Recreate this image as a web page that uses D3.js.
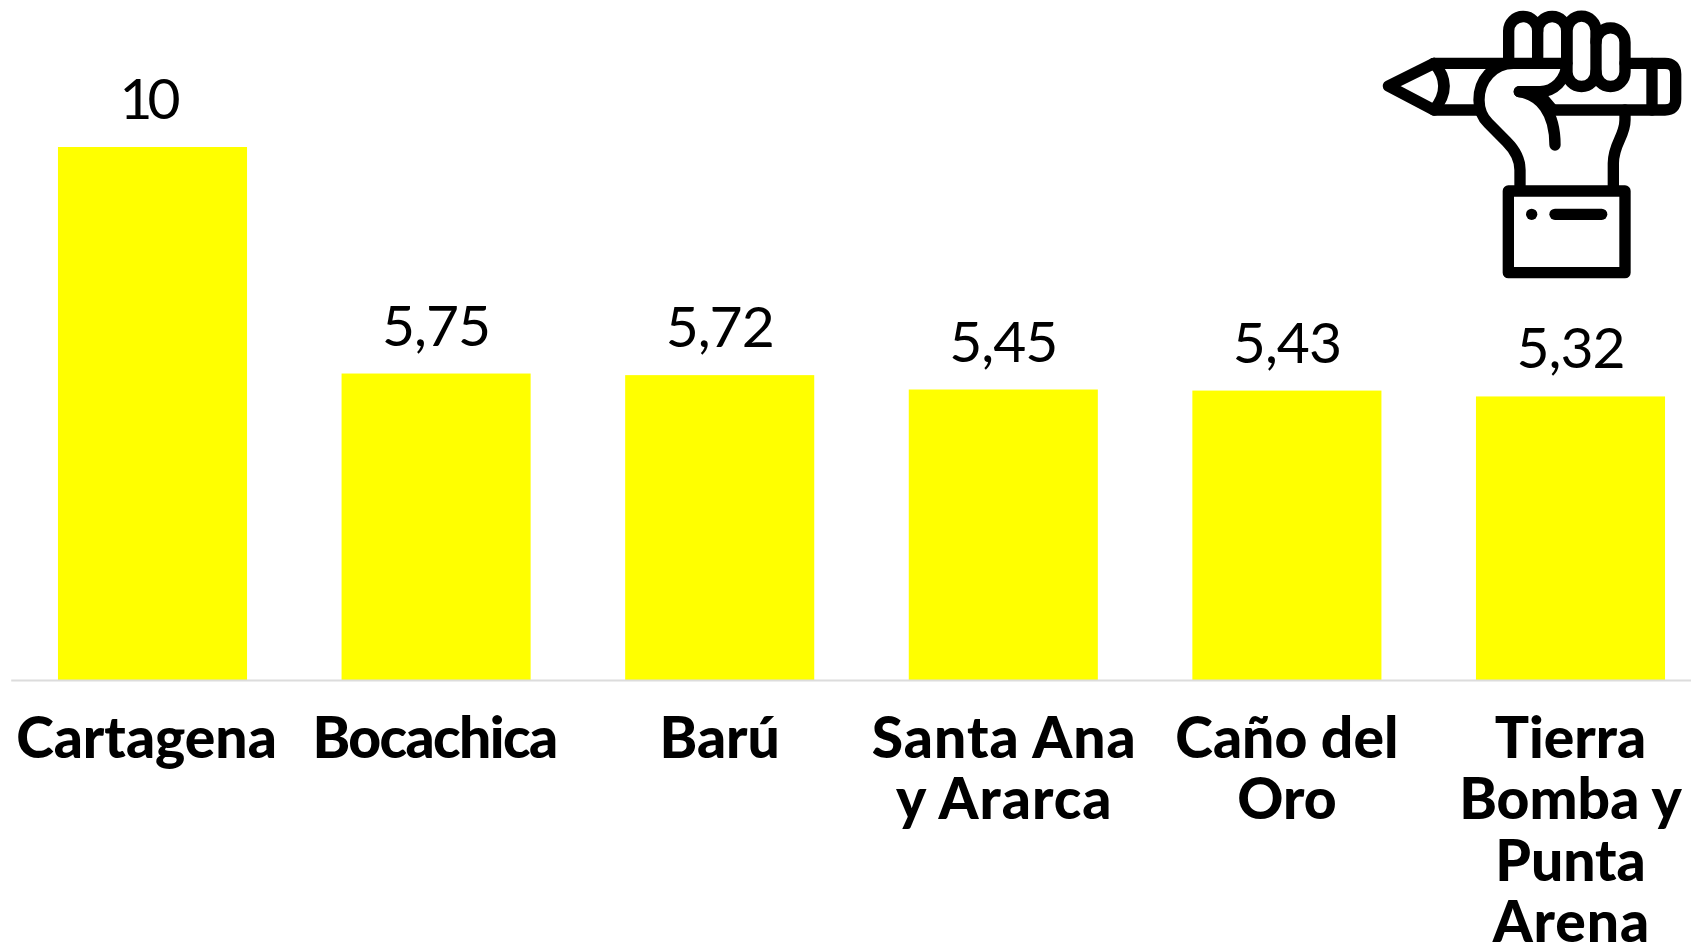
<!DOCTYPE html>
<html>
<head>
<meta charset="utf-8">
<script src="https://cdn.jsdelivr.net/npm/d3@7"></script>
<style>
  html, body { margin: 0; padding: 0; background: #fff; overflow: hidden; }
  svg { display: block; }
</style>
</head>
<body>
<div id="chart"></div>
<script>
var categories = ["Cartagena", "Bocachica", "Barú", "Santa Ana y Ararca", "Caño del Oro", "Tierra Bomba y Punta Arena"];
var values = [10, 5.75, 5.72, 5.45, 5.43, 5.32];
var valueLabels = ["10", "5,75", "5,72", "5,45", "5,43", "5,32"];
var labelLines = [
  ["Cartagena"],
  ["Bocachica"],
  ["Barú"],
  ["Santa Ana", "y Ararca"],
  ["Caño del", "Oro"],
  ["Tierra", "Bomba y", "Punta", "Arena"]
];

var width = 1691, height = 944;
var baseY = 680, topY = 147;

// Lato runs a bit wide or tight on some words compared to the original
var tracking = {"Bocachica": -1.6, "Santa Ana": 1, "y Ararca": 1, "Arena": 0.9};

var svg = d3.select("#chart").append("svg")
    .attr("width", width)
    .attr("height", height);

// band scale runs past the right edge of the page, the last gap gets cut off
var x = d3.scaleBand()
    .domain(categories)
    .range([10.7, 1712.3])
    .paddingInner(1 / 3)
    .paddingOuter(1 / 6);

var y = d3.scaleLinear()
    .domain([0, 10])
    .range([baseY, topY]);

svg.selectAll("rect.bar")
    .data(categories)
    .enter().append("rect")
    .attr("class", "bar")
    .attr("x", function(d) { return x(d); })
    .attr("y", function(d, i) { return y(values[i]); })
    .attr("width", x.bandwidth())
    .attr("height", function(d, i) { return baseY - y(values[i]); })
    .attr("fill", "#ffff00");

// values over the bars
svg.selectAll("text.value")
    .data(categories)
    .enter().append("text")
    .attr("class", "value")
    .attr("x", function(d, i) { return x(d) + x.bandwidth() / 2 - (i === 0 ? 5 : 0); })
    .attr("y", function(d, i) { return y(values[i]) - 28; })
    .attr("text-anchor", "middle")
    .attr("font-family", "Lato")
    .attr("font-size", "57px")
    .attr("letter-spacing", function(d, i) { return i === 0 ? "-5px" : "-1px"; })
    .attr("fill", "#000")
    .text(function(d, i) { return valueLabels[i]; });

// axis
var axis = svg.append("g")
    .attr("transform", "translate(0," + baseY + ")")
    .call(d3.axisBottom(x).tickSize(0).tickSizeOuter(0));

axis.select(".domain")
    .attr("stroke", "#dcdcdc")
    .attr("stroke-width", 2);

axis.selectAll(".tick text")
    .attr("font-family", "Lato")
    .attr("font-weight", 900)
    .attr("font-size", "57px")
    .attr("fill", "#000")
    .attr("y", 0)
    .attr("dy", null)
    .text(null)
    .each(function(d, i) {
      var t = d3.select(this);
      // first label sits a little left of its bar in the original
      var shift = i === 0 ? -6 : 0;
      labelLines[i].forEach(function(line, j) {
        var track = tracking[line] || 0;
        t.append("tspan")
          .attr("x", shift + track)
          .attr("y", 78 + j * 61.4)
          .attr("letter-spacing", track ? track + "px" : null)
          .text(line);
      });
    });

// fist holding a pencil, traced at 3x
var icon = svg.append("g")
    .attr("transform", "translate(1360,0) scale(" + 1 / 3 + ")")
    .attr("fill", "none")
    .attr("stroke", "#000")
    .attr("stroke-width", 34)
    .attr("stroke-linecap", "round")
    .attr("stroke-linejoin", "round");

var iconPaths = [
  // pencil
  "M222,190 L85,258 L222,330 H355",
  "M222,190 H620",
  "M795,190 H915 Q947,190 947,222 V298 Q947,330 915,330 H575",
  "M222,190 Q282,258 222,330",
  "M876,190 V330",
  // fingers
  "M446,190 V93 A43.5,43.5 0 0 1 533,93 V190",
  "M533,93 A43.5,43.5 0 0 1 620,93 V190",
  "M621,92 A43.5,43.5 0 0 1 708,92 V216 A43.5,43.5 0 0 1 621,216 Z",
  "M708,127 A43.5,43.5 0 0 1 795,127 V216 A43.5,43.5 0 0 1 708,216",
  // thumb and wrist
  "M460,190 C400,190 357,240 357,300 C357,330 370,355 385,370 L440,425 C465,450 480,475 480,510 V570",
  "M478,275 H540 C580,275 620,240 620,190",
  "M478,275 C540,285 585,335 585,435",
  "M540,285 L578,330",
  "M795,330 V360 C795,410 760,430 760,490 V570",
  // cuff
  "M445,573 H795 V818 H445 Z",
  "M585,643 H725"
];

icon.selectAll("path")
    .data(iconPaths)
    .enter().append("path")
    .attr("d", function(d) { return d; });

icon.append("circle")
    .attr("cx", 515)
    .attr("cy", 643)
    .attr("r", 17)
    .attr("fill", "#000")
    .attr("stroke", "none");
</script>
</body>
</html>
